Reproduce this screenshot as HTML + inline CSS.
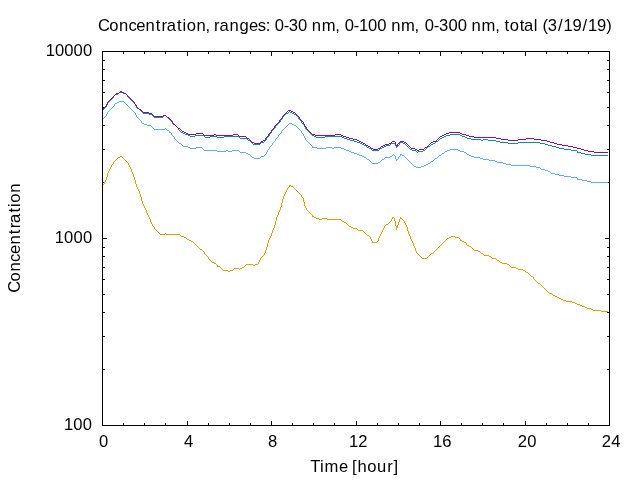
<!DOCTYPE html>
<html lang="en">
<head>
<meta charset="utf-8">
<title>Concentration, ranges: 0-30 nm, 0-100 nm, 0-300 nm, total (3/19/19)</title>
<style>
html,body{margin:0;padding:0;background:#fff;}
body{width:640px;height:480px;overflow:hidden;}
svg{display:block;}
text{font-family:"Liberation Sans",sans-serif;font-size:16.6px;fill:#000;}
</style>
</head>
<body>
<svg width="640" height="480" viewBox="0 0 640 480">
<rect x="0" y="0" width="640" height="480" fill="#ffffff"/>
<g id="axes" fill="none" stroke="#000" stroke-width="1" stroke-linecap="butt" stroke-linejoin="miter">
<path d="M123.5,425v-2M123.5,52v2M144.5,425v-2M144.5,52v2M165.5,425v-2M165.5,52v2M187.5,425v-4M187.5,52v4M208.5,425v-2M208.5,52v2M229.5,425v-2M229.5,52v2M250.5,425v-2M250.5,52v2M271.5,425v-4M271.5,52v4M292.5,425v-2M292.5,52v2M313.5,425v-2M313.5,52v2M334.5,425v-2M334.5,52v2M356.5,425v-4M356.5,52v4M377.5,425v-2M377.5,52v2M398.5,425v-2M398.5,52v2M419.5,425v-2M419.5,52v2M440.5,425v-4M440.5,52v4M461.5,425v-2M461.5,52v2M482.5,425v-2M482.5,52v2M503.5,425v-2M503.5,52v2M525.5,425v-4M525.5,52v4M546.5,425v-2M546.5,52v2M567.5,425v-2M567.5,52v2M588.5,425v-2M588.5,52v2M103,369.5h2M609,369.5h-2M103,336.5h2M609,336.5h-2M103,312.5h2M609,312.5h-2M103,294.5h2M609,294.5h-2M103,279.5h2M609,279.5h-2M103,267.5h2M609,267.5h-2M103,256.5h2M609,256.5h-2M103,247.5h2M609,247.5h-2M103,238.5h4M609,238.5h-4M103,182.5h2M609,182.5h-2M103,149.5h2M609,149.5h-2M103,125.5h2M609,125.5h-2M103,107.5h2M609,107.5h-2M103,92.5h2M609,92.5h-2M103,80.5h2M609,80.5h-2M103,69.5h2M609,69.5h-2M103,60.5h2M609,60.5h-2"/>
<path d="M102.5,51V426M609.5,51V426M102,51.5H610M102,425.5H610"/>
</g>
<g id="curves">
<path d="M103,184.5h1M104,182.5h1M104,183.5h1M105,180.5h1M105,181.5h1M106,177.5h1M106,178.5h1M106,179.5h1M107,173.5h1M107,174.5h1M107,175.5h1M107,176.5h1M108,171.5h1M108,172.5h1M109,169.5h1M109,170.5h1M110,167.5h1M110,168.5h1M111,165.5h1M111,166.5h1M112,164.5h1M113,162.5h1M113,163.5h1M114,161.5h1M115,160.5h1M116,159.5h1M117,158.5h1M118,157.5h2M120,156.5h2M122,157.5h1M123,158.5h1M124,159.5h1M125,160.5h1M126,161.5h1M127,162.5h1M128,163.5h1M128,164.5h1M129,165.5h1M129,166.5h1M130,167.5h1M130,168.5h1M131,169.5h1M131,170.5h1M131,171.5h1M132,172.5h1M132,173.5h1M133,174.5h1M133,175.5h1M133,176.5h1M134,177.5h1M134,178.5h1M134,179.5h1M135,180.5h1M135,181.5h1M135,182.5h1M135,183.5h1M136,184.5h1M136,185.5h1M136,186.5h1M137,187.5h1M137,188.5h1M138,189.5h1M138,190.5h1M139,191.5h1M139,192.5h1M139,193.5h1M140,194.5h1M140,195.5h1M140,196.5h1M141,197.5h1M141,198.5h1M141,199.5h1M141,200.5h1M142,201.5h1M142,202.5h1M142,203.5h1M143,204.5h1M143,205.5h1M144,206.5h1M144,207.5h1M145,208.5h1M145,209.5h1M146,210.5h1M146,211.5h1M146,212.5h1M147,213.5h1M147,214.5h1M148,215.5h1M148,216.5h1M149,217.5h1M149,218.5h1M150,219.5h1M150,220.5h1M150,221.5h1M151,222.5h1M151,223.5h1M152,224.5h1M152,225.5h1M153,226.5h1M154,227.5h1M154,228.5h1M155,229.5h1M156,230.5h1M157,231.5h1M158,232.5h1M159,233.5h1M160,234.5h5M165,233.5h1M166,234.5h14M180,235.5h1M181,236.5h3M184,237.5h2M186,238.5h1M187,239.5h2M189,240.5h2M191,241.5h2M193,242.5h1M194,243.5h1M195,244.5h1M196,245.5h1M197,246.5h1M198,247.5h1M199,248.5h1M200,249.5h2M202,250.5h1M203,251.5h1M204,252.5h1M204,253.5h1M205,254.5h1M206,255.5h1M207,256.5h1M208,257.5h1M208,258.5h1M209,259.5h1M210,260.5h1M211,261.5h1M212,262.5h2M214,263.5h2M216,264.5h1M217,265.5h1M217,266.5h3M220,267.5h1M221,268.5h1M222,269.5h1M223,270.5h5M228,271.5h2M230,270.5h3M233,269.5h1M234,268.5h5M239,269.5h1M240,268.5h2M242,267.5h2M244,266.5h1M245,265.5h1M246,264.5h7M253,265.5h2M255,264.5h3M258,262.5h1M258,263.5h1M259,260.5h1M259,261.5h1M260,258.5h1M260,259.5h1M261,257.5h1M262,256.5h1M263,255.5h1M264,253.5h1M264,254.5h1M265,250.5h1M265,251.5h1M265,252.5h1M266,247.5h1M266,248.5h1M266,249.5h1M267,243.5h1M267,244.5h1M267,245.5h1M267,246.5h1M268,240.5h1M268,241.5h1M268,242.5h1M269,238.5h1M269,239.5h1M270,236.5h1M270,237.5h1M271,233.5h1M271,234.5h1M271,235.5h1M272,230.5h1M272,231.5h1M272,232.5h1M273,228.5h1M273,229.5h1M274,225.5h1M274,226.5h1M274,227.5h1M275,221.5h1M275,222.5h1M275,223.5h1M275,224.5h1M276,217.5h1M276,218.5h1M276,219.5h1M276,220.5h1M277,215.5h1M277,216.5h1M278,212.5h1M278,213.5h1M278,214.5h1M279,210.5h1M279,211.5h1M280,207.5h1M280,208.5h1M280,209.5h1M281,203.5h1M281,204.5h1M281,205.5h1M281,206.5h1M282,199.5h1M282,200.5h1M282,201.5h1M282,202.5h1M283,196.5h1M283,197.5h1M283,198.5h1M284,194.5h1M284,195.5h1M285,192.5h1M285,193.5h1M286,190.5h1M286,191.5h1M287,188.5h1M287,189.5h1M288,187.5h1M289,185.5h2M289,186.5h1M291,186.5h2M293,187.5h1M294,188.5h1M295,189.5h1M296,190.5h1M297,191.5h1M298,192.5h1M299,193.5h1M300,194.5h1M301,195.5h1M301,196.5h1M302,197.5h1M303,198.5h1M303,199.5h1M303,200.5h1M303,201.5h1M304,202.5h1M304,203.5h1M304,204.5h1M304,205.5h1M305,206.5h1M305,207.5h1M306,208.5h1M306,209.5h1M307,210.5h1M308,211.5h1M309,212.5h1M310,213.5h1M311,214.5h1M312,215.5h1M312,216.5h2M314,217.5h2M316,218.5h3M319,219.5h3M322,218.5h5M327,219.5h14M341,220.5h1M342,221.5h2M344,222.5h2M346,223.5h1M347,224.5h1M348,225.5h1M349,226.5h2M351,227.5h2M353,228.5h4M357,229.5h1M358,230.5h5M363,231.5h1M364,232.5h1M365,233.5h1M366,234.5h1M367,235.5h2M369,236.5h1M370,237.5h1M370,238.5h1M371,239.5h1M371,240.5h1M372,241.5h1M372,242.5h5M377,241.5h1M378,238.5h1M378,239.5h1M378,240.5h1M379,236.5h1M379,237.5h1M380,234.5h1M380,235.5h1M381,232.5h1M381,233.5h1M382,230.5h1M382,231.5h1M383,228.5h1M383,229.5h1M384,226.5h1M384,227.5h1M385,225.5h1M386,224.5h2M388,223.5h1M389,222.5h1M390,221.5h1M391,219.5h1M391,220.5h1M392,217.5h2M392,218.5h1M394,218.5h1M394,219.5h1M394,220.5h1M395,221.5h1M395,222.5h1M395,223.5h1M395,224.5h1M395,225.5h1M396,226.5h2M396,227.5h2M396,228.5h1M396,229.5h1M397,225.5h1M398,222.5h1M398,223.5h1M398,224.5h1M399,219.5h1M399,220.5h1M399,221.5h1M400,217.5h1M400,218.5h2M402,219.5h1M403,220.5h1M404,221.5h1M404,222.5h1M405,223.5h1M405,224.5h1M406,225.5h1M406,226.5h1M407,227.5h1M407,228.5h1M407,229.5h1M407,230.5h1M408,231.5h1M408,232.5h1M408,233.5h1M409,234.5h1M409,235.5h1M410,236.5h1M410,237.5h1M410,238.5h1M411,239.5h1M411,240.5h1M412,241.5h1M412,242.5h1M413,243.5h1M413,244.5h1M413,245.5h1M414,246.5h1M414,247.5h1M415,248.5h1M415,249.5h1M415,250.5h1M416,251.5h1M416,252.5h1M417,253.5h1M418,254.5h1M419,255.5h1M420,256.5h1M421,257.5h1M422,258.5h5M427,257.5h1M428,256.5h1M429,255.5h1M430,254.5h1M431,253.5h2M433,252.5h1M434,251.5h1M435,250.5h1M436,249.5h1M437,248.5h1M438,247.5h1M439,246.5h1M440,245.5h1M441,244.5h1M442,243.5h1M443,242.5h1M444,241.5h1M445,240.5h1M446,239.5h1M447,238.5h2M449,237.5h2M451,236.5h4M455,237.5h4M459,238.5h1M460,239.5h1M460,240.5h2M462,241.5h2M464,242.5h2M466,243.5h1M466,244.5h1M467,245.5h2M469,246.5h2M471,247.5h1M472,248.5h1M473,249.5h1M474,250.5h4M478,251.5h2M480,252.5h1M481,253.5h2M483,254.5h1M484,255.5h5M489,256.5h2M491,257.5h1M492,258.5h4M496,259.5h1M497,260.5h2M499,261.5h1M500,262.5h2M502,263.5h5M507,264.5h2M509,265.5h1M510,266.5h1M511,267.5h5M516,268.5h2M518,269.5h5M523,270.5h2M525,271.5h1M526,272.5h2M528,273.5h1M529,274.5h1M530,275.5h1M531,276.5h2M533,277.5h1M533,278.5h1M534,279.5h1M535,280.5h1M536,281.5h1M537,282.5h1M538,283.5h2M540,284.5h1M541,285.5h1M542,286.5h1M543,287.5h1M544,288.5h1M545,289.5h1M546,290.5h1M547,291.5h1M548,292.5h1M549,293.5h3M552,294.5h1M553,295.5h2M555,296.5h2M557,297.5h2M559,298.5h2M561,299.5h2M563,300.5h3M566,301.5h6M572,302.5h3M575,303.5h2M577,304.5h3M580,305.5h2M582,306.5h3M585,307.5h2M587,308.5h4M591,309.5h2M593,310.5h8M601,311.5h7" fill="none" stroke="#e69f00" stroke-width="1"/>
<path d="M103,118.5h1M104,117.5h1M105,116.5h1M106,114.5h1M106,115.5h1M107,112.5h1M107,113.5h1M108,111.5h1M109,110.5h1M110,109.5h1M111,108.5h1M112,107.5h1M113,106.5h1M114,104.5h1M114,105.5h1M115,103.5h2M117,102.5h2M119,101.5h5M124,102.5h1M125,103.5h1M126,104.5h1M127,105.5h1M128,106.5h1M129,107.5h1M130,108.5h1M131,109.5h1M132,110.5h1M133,111.5h1M134,112.5h1M135,113.5h1M135,114.5h1M136,115.5h1M136,116.5h1M137,117.5h1M138,118.5h1M139,119.5h1M140,120.5h1M141,121.5h1M141,122.5h1M142,123.5h2M144,124.5h3M147,125.5h4M151,126.5h1M152,127.5h1M153,128.5h1M154,129.5h11M165,128.5h1M166,129.5h1M167,130.5h2M169,131.5h1M169,132.5h2M171,133.5h1M171,134.5h1M172,135.5h1M173,136.5h1M174,137.5h1M174,138.5h1M175,139.5h1M176,140.5h1M177,141.5h1M178,142.5h1M179,143.5h2M181,144.5h1M182,145.5h1M183,146.5h5M188,147.5h2M190,148.5h6M196,147.5h6M202,148.5h1M203,149.5h1M204,150.5h13M217,151.5h9M226,150.5h2M228,151.5h4M232,150.5h7M239,151.5h1M240,152.5h6M246,153.5h2M248,154.5h2M250,155.5h1M251,156.5h1M252,157.5h2M254,158.5h6M260,157.5h1M261,156.5h3M264,155.5h1M265,154.5h1M266,152.5h1M266,153.5h1M267,150.5h1M267,151.5h1M268,149.5h1M269,147.5h1M269,148.5h1M270,146.5h1M271,145.5h1M272,143.5h1M272,144.5h1M273,142.5h1M274,141.5h1M275,139.5h1M275,140.5h1M276,138.5h1M277,137.5h1M278,135.5h1M278,136.5h1M279,134.5h1M280,133.5h1M281,131.5h1M281,132.5h1M282,130.5h1M283,129.5h1M284,128.5h1M285,127.5h1M286,126.5h1M287,125.5h1M288,124.5h1M289,123.5h3M292,124.5h2M294,125.5h2M296,126.5h1M297,127.5h1M298,128.5h1M299,129.5h1M300,130.5h1M301,131.5h1M301,132.5h1M302,133.5h1M303,134.5h1M303,135.5h1M304,136.5h1M304,137.5h1M305,138.5h1M305,139.5h1M306,140.5h1M307,141.5h1M308,142.5h1M309,143.5h1M310,144.5h1M311,145.5h1M312,146.5h1M312,147.5h5M317,148.5h9M326,147.5h6M332,148.5h2M334,147.5h7M341,148.5h3M344,149.5h2M346,150.5h3M349,151.5h2M351,152.5h3M354,153.5h3M357,154.5h2M359,155.5h3M362,156.5h2M364,157.5h2M366,158.5h1M367,159.5h2M369,160.5h1M370,161.5h1M371,162.5h1M372,163.5h6M378,162.5h2M380,161.5h1M381,160.5h1M382,159.5h2M384,158.5h1M385,157.5h5M390,156.5h2M392,155.5h1M393,154.5h1M394,155.5h1M395,156.5h1M395,157.5h1M395,158.5h1M396,159.5h2M396,160.5h1M398,157.5h1M398,158.5h1M399,156.5h1M400,154.5h2M400,155.5h1M402,155.5h2M404,156.5h1M405,157.5h1M406,158.5h1M407,159.5h1M408,160.5h1M409,161.5h1M410,162.5h1M411,163.5h1M412,164.5h1M413,165.5h1M414,166.5h2M416,167.5h5M421,166.5h3M424,165.5h2M426,164.5h2M428,163.5h2M430,162.5h1M431,161.5h2M433,160.5h1M434,159.5h1M435,158.5h2M437,157.5h1M438,156.5h1M439,155.5h2M441,154.5h1M442,153.5h2M444,152.5h1M445,151.5h2M447,150.5h3M450,149.5h8M458,150.5h2M460,151.5h4M464,152.5h2M466,153.5h1M467,154.5h2M469,155.5h2M471,156.5h3M474,157.5h6M480,158.5h3M483,159.5h6M489,160.5h6M495,161.5h2M497,162.5h6M503,163.5h3M506,164.5h5M511,165.5h19M530,166.5h6M536,167.5h4M540,168.5h1M541,169.5h4M545,170.5h3M548,171.5h2M550,172.5h1M551,173.5h4M555,174.5h4M559,175.5h5M564,176.5h7M571,177.5h6M577,178.5h1M577,179.5h5M582,180.5h5M587,181.5h4M591,182.5h17" fill="none" stroke="#56b4e9" stroke-width="1"/>
<path d="M103,109.5h1M104,108.5h1M105,107.5h1M106,105.5h1M106,106.5h1M107,103.5h1M107,104.5h1M108,102.5h1M109,101.5h1M110,100.5h1M111,99.5h1M112,98.5h1M113,96.5h1M113,97.5h1M114,95.5h1M115,94.5h3M118,93.5h1M119,92.5h4M123,93.5h3M126,94.5h1M127,95.5h1M127,96.5h1M128,97.5h1M129,98.5h1M130,99.5h1M131,100.5h1M132,101.5h1M133,102.5h1M134,103.5h1M135,104.5h1M135,105.5h1M136,106.5h1M136,107.5h1M137,108.5h2M139,109.5h1M140,110.5h1M141,111.5h1M142,112.5h1M143,113.5h6M149,114.5h3M152,115.5h1M153,116.5h1M154,117.5h9M163,115.5h3M163,116.5h1M166,116.5h1M167,117.5h1M168,118.5h1M169,119.5h1M170,120.5h1M171,121.5h1M172,122.5h1M172,123.5h1M173,124.5h2M175,125.5h1M176,126.5h1M177,127.5h1M178,128.5h1M178,129.5h1M179,130.5h1M180,131.5h1M181,132.5h2M183,133.5h2M185,134.5h3M188,135.5h2M190,136.5h5M195,135.5h9M204,136.5h1M205,137.5h5M210,136.5h7M217,137.5h7M224,136.5h15M239,137.5h1M240,138.5h7M247,139.5h1M248,140.5h2M250,141.5h1M251,142.5h1M252,143.5h1M253,144.5h7M260,143.5h1M261,142.5h3M264,141.5h1M265,140.5h1M266,138.5h1M266,139.5h1M267,137.5h1M268,136.5h1M269,134.5h1M269,135.5h1M270,133.5h1M271,131.5h1M271,132.5h1M272,130.5h1M273,129.5h1M274,128.5h1M275,126.5h1M275,127.5h1M276,125.5h1M277,124.5h1M278,123.5h1M279,122.5h1M280,120.5h1M280,121.5h1M281,119.5h1M282,117.5h1M282,118.5h1M283,116.5h1M284,115.5h1M285,114.5h1M286,113.5h2M288,112.5h1M289,111.5h1M290,112.5h2M292,113.5h2M294,114.5h2M296,115.5h1M297,116.5h1M298,117.5h1M298,118.5h1M299,119.5h1M300,120.5h1M301,121.5h1M301,122.5h1M302,123.5h1M303,124.5h1M304,125.5h1M304,126.5h1M305,127.5h1M305,128.5h1M306,129.5h1M307,130.5h1M308,131.5h1M309,132.5h1M310,133.5h1M311,134.5h1M312,135.5h2M314,136.5h2M316,137.5h9M325,136.5h17M342,137.5h2M344,138.5h3M347,139.5h3M350,140.5h4M354,141.5h3M357,142.5h3M360,143.5h2M362,144.5h2M364,145.5h2M366,146.5h1M367,147.5h2M369,148.5h2M371,149.5h1M372,150.5h7M379,149.5h1M380,148.5h2M382,147.5h2M384,146.5h2M386,145.5h4M390,144.5h1M391,143.5h4M395,144.5h1M395,145.5h1M396,146.5h2M396,147.5h1M398,145.5h1M399,143.5h1M399,144.5h1M400,142.5h3M403,143.5h2M405,144.5h1M406,145.5h1M407,146.5h1M408,147.5h1M409,148.5h1M410,149.5h2M412,150.5h4M416,151.5h1M417,152.5h1M418,151.5h5M423,150.5h2M425,149.5h1M426,148.5h1M427,147.5h1M428,146.5h2M430,145.5h1M431,144.5h2M433,143.5h2M435,142.5h1M436,141.5h2M438,140.5h1M439,139.5h1M440,138.5h2M442,137.5h2M444,136.5h2M446,135.5h4M450,134.5h10M460,135.5h2M462,136.5h3M465,137.5h2M467,138.5h4M471,139.5h10M481,140.5h2M483,139.5h5M488,140.5h8M496,141.5h4M500,142.5h8M508,143.5h10M518,142.5h22M540,143.5h5M545,144.5h3M548,145.5h4M552,146.5h4M556,147.5h3M559,148.5h5M564,149.5h7M571,150.5h6M577,151.5h1M577,152.5h4M581,153.5h4M585,154.5h6M591,155.5h17" fill="none" stroke="#009e73" stroke-width="1"/>
<path d="M103,108.5h1M104,107.5h1M105,106.5h1M106,104.5h1M106,105.5h1M107,102.5h1M107,103.5h1M108,101.5h1M109,100.5h1M110,99.5h1M111,98.5h1M112,97.5h1M113,96.5h1M114,95.5h1M115,94.5h1M116,93.5h3M119,92.5h1M120,91.5h2M122,92.5h2M124,93.5h2M126,94.5h1M127,95.5h1M128,96.5h1M129,97.5h1M130,98.5h1M131,99.5h1M132,100.5h1M133,101.5h1M134,102.5h1M134,103.5h1M135,104.5h1M136,105.5h1M136,106.5h1M137,107.5h1M138,108.5h1M139,109.5h2M141,110.5h1M142,111.5h1M143,112.5h6M149,113.5h3M152,114.5h1M153,115.5h1M154,116.5h9M163,115.5h3M166,116.5h1M167,117.5h2M169,118.5h1M170,119.5h1M171,120.5h1M172,121.5h1M172,122.5h1M173,123.5h1M174,124.5h1M175,125.5h1M176,126.5h1M177,127.5h1M178,128.5h2M180,129.5h1M181,130.5h1M182,131.5h2M184,132.5h2M186,133.5h2M188,134.5h8M196,133.5h7M203,134.5h1M204,135.5h10M214,134.5h2M216,135.5h17M233,134.5h5M238,135.5h1M239,136.5h7M246,137.5h1M247,138.5h2M249,139.5h1M250,140.5h1M251,141.5h1M252,142.5h2M254,143.5h6M260,142.5h1M261,141.5h2M263,140.5h2M265,138.5h1M265,139.5h1M266,137.5h1M267,136.5h1M268,134.5h1M268,135.5h1M269,133.5h1M270,132.5h1M271,130.5h1M271,131.5h1M272,129.5h1M273,128.5h1M274,126.5h1M274,127.5h1M275,125.5h1M276,124.5h1M277,123.5h1M278,122.5h1M279,120.5h1M279,121.5h1M280,119.5h1M281,118.5h1M282,116.5h1M282,117.5h1M283,115.5h1M284,114.5h1M285,113.5h1M286,112.5h1M287,111.5h1M288,110.5h3M291,111.5h2M293,112.5h2M295,113.5h1M296,114.5h1M297,115.5h1M298,116.5h1M299,117.5h1M299,118.5h1M300,119.5h1M301,120.5h1M302,121.5h1M303,122.5h1M303,123.5h1M304,124.5h1M304,125.5h1M305,126.5h1M306,127.5h1M306,128.5h1M307,129.5h1M308,130.5h1M309,131.5h1M310,132.5h1M311,133.5h1M312,134.5h3M315,135.5h20M335,134.5h6M341,135.5h2M343,136.5h3M346,137.5h3M349,138.5h4M353,139.5h4M357,140.5h2M359,141.5h2M361,142.5h2M363,143.5h2M365,144.5h1M366,145.5h2M368,146.5h2M370,147.5h1M371,148.5h2M373,149.5h5M378,148.5h2M380,147.5h1M381,146.5h2M383,145.5h2M385,144.5h4M389,143.5h2M391,142.5h1M392,141.5h3M395,142.5h1M395,143.5h1M395,144.5h1M396,145.5h2M396,146.5h1M397,144.5h1M398,143.5h1M399,142.5h1M400,141.5h4M404,142.5h2M406,143.5h1M407,144.5h1M408,145.5h1M409,146.5h1M410,147.5h1M411,148.5h4M415,149.5h2M417,150.5h2M419,149.5h5M424,148.5h1M425,147.5h2M427,146.5h1M428,145.5h1M429,144.5h1M430,143.5h1M431,142.5h2M433,141.5h3M436,140.5h1M437,139.5h1M438,138.5h1M439,137.5h1M440,136.5h2M442,135.5h2M444,134.5h2M446,133.5h3M449,132.5h11M460,133.5h2M462,134.5h4M466,135.5h3M469,136.5h5M474,137.5h22M496,138.5h5M501,139.5h7M508,140.5h10M518,139.5h8M526,138.5h8M534,139.5h7M541,140.5h6M547,141.5h3M550,142.5h4M554,143.5h3M557,144.5h5M562,145.5h6M568,146.5h5M573,147.5h4M577,148.5h4M581,149.5h3M584,150.5h4M588,151.5h6M594,152.5h14" fill="none" stroke="#9400d3" stroke-width="1"/>
</g>
<g id="labels">
<text x="98.05 109.24 119.02 128.4 136.23 145.6 155.75 161.58 166.8 177.11 182.51 186.65 196.43 205.56 211.82 214.09 219.38 229.51 239.43 249.07 257.85 265.77 272.31 274.86 283.75 288.79 297.94 306.89 311.85 321.64 335.34 342 344.65 353.63 359.06 368.03 377.14 386.23 391.31 400.99 414.6 421.66 424.72 433.83 439.09 448.53 457.82 466.62 471.41 481.44 495.32 501.94 504.56 509.8 519.67 523.96 533.73 540.06 542.39 547.82 557.93 563.42 572.49 582.48 587.98 597.05 606.35" y="31" id="title">Concentration, ranges: 0-30 nm, 0-100 nm, 0-300 nm, total (3/19/19)</text>
<text x="45.77 54.94 64.28 73.62 82.95" y="56" id="y1">10000</text>
<text x="54.8 64.06 73.49 82.92" y="243" id="y2">1000</text>
<text x="64.06 73.35 82.81" y="430" id="y3">100</text>
<text x="99.02" y="447" id="x0">0</text>
<text x="184.04" y="447" id="x4">4</text>
<text x="268.07" y="447" id="x8">8</text>
<text x="349.1 358.17" y="447" id="x12">12</text>
<text x="432.93 442.13" y="447" id="x16">16</text>
<text x="517.75 527.15" y="447" id="x20">20</text>
<text x="601.73 611.14" y="447" id="x24">24</text>
<text x="310.23 320.01 324.56 339 347.56 352.12 357.45 367.23 376.97 387.17 393.54" y="472" id="xl">Time [hour]</text>
<text x="-1.78 9.58 19.53 29.07 37.04 46.57 56.86 62.8 68.15 78.58 84.08 88.33 98.28" y="0" transform="translate(20 291.1) rotate(-90)" id="yl">Concentration</text>
</g>
</svg>
</body>
</html>
